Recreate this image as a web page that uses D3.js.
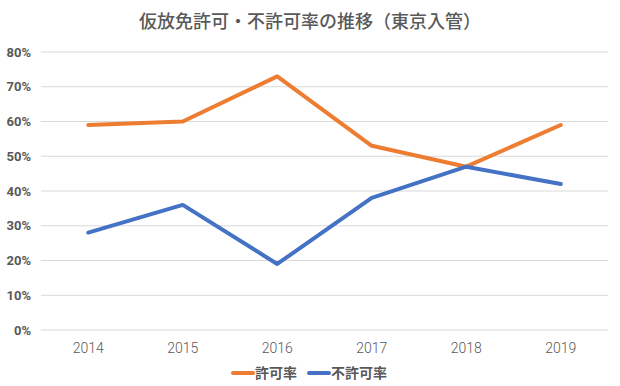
<!DOCTYPE html>
<html lang="ja">
<head>
<meta charset="UTF-8">
<title>仮放免許可・不許可率の推移</title>
<script src="https://d3js.org/d3.v7.min.js"></script>
<style>
  body { margin: 0; background: #fff; }
  text { font-family: "Noto Sans CJK JP", "Noto Sans", sans-serif; fill: #595959; }
</style>
</head>
<body>
<div id="chart"></div>
<script>
const years = ["2014", "2015", "2016", "2017", "2018", "2019"];
const permitRate = [0.59, 0.60, 0.73, 0.53, 0.47, 0.59];
const denyRate = [0.28, 0.36, 0.19, 0.38, 0.47, 0.42];
const yTicks = [0, 0.1, 0.2, 0.3, 0.4, 0.5, 0.6, 0.7, 0.8];
const seriesNames = ["許可率", "不許可率"];
const seriesColors = ["#ED7D31", "#4472C4"];

const width = 620, height = 386;
const margin = { top: 52, right: 12, bottom: 56, left: 41 };

const svg = d3.select("#chart").append("svg")
  .attr("width", width)
  .attr("height", height);

const x = d3.scaleBand()
  .domain(years)
  .range([margin.left, width - margin.right]);

const y = d3.scaleLinear()
  .domain([0, 0.8])
  .range([height - margin.bottom, margin.top]);

// gridlines
svg.append("g")
  .selectAll("line")
  .data(yTicks)
  .enter().append("line")
  .attr("x1", margin.left)
  .attr("x2", width - margin.right)
  .attr("y1", d => y(d))
  .attr("y2", d => y(d))
  .attr("stroke", "#d9d9d9")
  .attr("stroke-width", 1);

// y axis labels
const yAxis = svg.append("g")
  .attr("transform", `translate(${margin.left - 10},0)`)
  .call(d3.axisLeft(y).tickValues(yTicks).tickFormat(d3.format(".0%")).tickSize(0));
yAxis.select(".domain").remove();
yAxis.selectAll("text")
  .attr("x", 0)
  .style("font-family", "Roboto, 'Noto Sans', sans-serif")
  .style("font-size", "13px")
  .style("font-weight", "bold")
  .attr("fill", "#595959");

// x axis labels
const xAxis = svg.append("g")
  .attr("transform", `translate(0,${height - margin.bottom})`)
  .call(d3.axisBottom(x).tickSize(0));
xAxis.select(".domain").remove();
xAxis.selectAll("text")
  .attr("dy", "1.4em")
  .style("font-family", "Roboto, 'Noto Sans', sans-serif")
  .style("font-size", "14px")
  .style("font-weight", "300")
  .attr("fill", "#595959");

// lines
const line = d3.line()
  .x((d, i) => x(years[i]) + x.bandwidth() / 2)
  .y(d => y(d));

[permitRate, denyRate].forEach((s, i) => {
  svg.append("path")
    .datum(s)
    .attr("fill", "none")
    .attr("stroke", seriesColors[i])
    .attr("stroke-width", 4)
    .attr("stroke-linecap", "round")
    .attr("stroke-linejoin", "round")
    .attr("d", line);
});

// title
svg.append("text")
  .attr("x", width / 2)
  .attr("y", 28)
  .attr("text-anchor", "middle")
  .style("font-size", "18px")
  .style("font-weight", "500")
  .text("仮放免許可・不許可率の推移（東京入管）");

// legend
const legend = svg.append("g").attr("transform", "translate(233,373)");
const legendX = [0, 76];
seriesNames.forEach((name, i) => {
  const g = legend.append("g").attr("transform", `translate(${legendX[i]},0)`);
  g.append("line")
    .attr("x1", 0).attr("x2", 20)
    .attr("y1", 0).attr("y2", 0)
    .attr("stroke", seriesColors[i])
    .attr("stroke-width", 4)
    .attr("stroke-linecap", "round");
  g.append("text")
    .attr("x", 22)
    .attr("y", 5)
    .style("font-size", "14px")
    .style("font-weight", "bold")
    .text(name);
});
</script>
</body>
</html>
